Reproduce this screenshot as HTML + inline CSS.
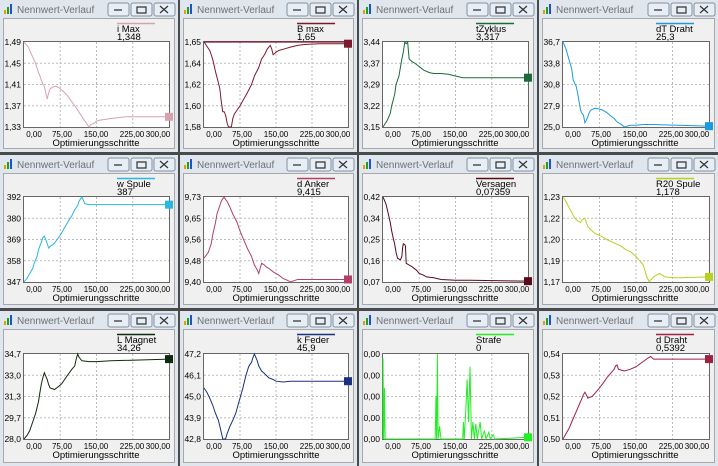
<!DOCTYPE html>
<html><head><meta charset="utf-8"><style>
body{margin:0;width:718px;height:466px;background:#4a4a4a;position:relative;overflow:hidden;font-family:"Liberation Sans",sans-serif}
.p{position:absolute;background:#dfe6ee}
.p svg{position:absolute;left:0;top:0}
</style></head><body>
<svg width="0" height="0" style="position:absolute"><defs>
<g id="tb">
<rect x="4" y="10" width="2" height="4" fill="#e0a000"/><rect x="7" y="7" width="2" height="7" fill="#20a020"/><rect x="10" y="4" width="2" height="10" fill="#2050d0"/>
<text x="17" y="13" font-size="10" fill="#707070">Nennwert-Verlauf</text>
</g>
</defs></svg>
<div id="more"></div>
<script>
const P=[
[0,0,178,152,"i  Max","1,348",["1,49","1,45","1,41","1,37","1,33"],"#d9a0b0","0,0 3,6 5,14 8,25 10,36 11,40 13,50 14,52 15,60 16,67 17,60 18,55 20,53 22,52 25,55 27,58 30,63 32,68 35,75 37,80 40,88 42,93 44,98 45,100 46,97 48,96 50,93 52,92 56,91 60,90 65,89 70,88 100,88",0],
[180,0,177,152,"B  max","1,65",["1,65","1,64","1,62","1,60","1,58"],"#7a1a30","0,0 4,10 6,20 8,35 10,48 11,55 12,70 13,82 14,82 15,86 16,95 17,100 19,100 20,90 21,85 23,80 25,75 28,66 30,60 33,50 35,40 38,30 40,20 42,15 44,8 46,4 47,8 48,15 50,12 52,10 56,8 60,6 65,4 70,3 80,2 100,2",1],
[359,0,178,152,"tZyklus","3,317",["3,44","3,37","3,29","3,22","3,15"],"#1a6a3a","0,100 3,92 5,84 6,75 8,62 9,50 11,40 12,30 13,20 14,12 15,0 16,2 17,0 18,20 20,23 22,25 25,29 28,33 32,36 35,37 40,37 45,38 50,40 55,42 70,42 100,42",0],
[539,0,179,152,"dT  Draht","25,3",["36,7","33,8","30,8","27,9","25,0"],"#1a9ae0","0,0 2,8 4,20 6,32 7,45 9,52 10,60 11,70 12,80 13,84 14,86 15,95 16,92 17,88 18,83 19,80 22,78 25,79 27,80 30,83 32,86 35,90 37,94 40,97 42,100 46,98 50,98 55,97 60,97 100,99",0],
[0,155,178,153,"w  Spule","387",["392","380","369","358","347"],"#2ab8e0","0,100 2,96 4,90 6,84 7,78 9,70 10,62 12,53 13,48 14,46 15,50 16,55 17,60 18,58 20,56 22,52 25,45 28,36 30,30 33,22 35,15 37,10 38,5 39,2 40,0 41,4 42,8 45,9 100,9",0],
[180,155,177,153,"d  Anker","9,415",["9,73","9,65","9,56","9,48","9,40"],"#b0406a","0,72 3,65 5,55 6,45 8,30 9,20 11,10 12,5 13,2 14,0 15,3 16,5 18,12 20,20 23,30 25,40 28,52 30,60 33,70 35,80 37,86 38,90 39,84 40,78 42,80 43,82 45,84 48,88 52,92 55,96 58,98 60,100 65,97 100,97",0],
[359,155,178,153,"Versagen","0,07359",["0,42","0,34","0,25","0,16","0,07"],"#5a0a18","0,0 2,8 3,15 5,30 6,40 7,48 8,55 9,65 10,72 11,73 12,74 13,70 13.5,60 14,55 15,56 15.5,58 16,78 18,80 20,82 23,86 25,90 28,92 30,94 35,95 40,97 50,98 60,98 100,99",0],
[539,155,179,153,"R20  Spule","1,178",["1,23","1,22","1,20","1,19","1,17"],"#b8d020","0,0 2,5 4,12 6,18 8,25 10,28 12,30 13,27 15,25 16,30 17,35 20,40 22,43 26,46 30,50 35,54 40,58 43,62 46,64 50,70 52,74 55,80 56,86 57,92 58,96 59,100 61,96 62,94 64,92 66,90 68,92 70,94 75,95 80,95 100,94",0],
[0,311,178,155,"L  Magnet","34,26",["34,7","33,0","31,3","29,7","28,0"],"#102a10","0,100 2,96 4,90 6,80 8,70 10,56 11,45 12,35 13,28 14,22 15,26 16,30 17,36 18,40 20,41 21,42 24,38 26,35 28,30 30,25 33,18 35,14 36,6 37,0 38,4 40,8 45,9 50,9 60,8 100,6",0],
[180,311,177,155,"k  Feder","45,9",["47,2","46,1","45,0","43,9","42,8"],"#1a3080","0,40 2,45 4,52 6,60 8,70 10,78 11,85 12,92 13,100 15,100 16,94 18,85 20,78 22,70 24,58 27,40 29,26 31,15 32,12 33,10 34,4 35,0 36,4 37,8 38,14 40,20 42,23 45,28 48,30 50,32 55,33 60,32 65,32 100,32",0],
[359,311,178,155,"Strafe","0",["0,00","0,00","0,00","0,00","0,00"],"#22ee22","0,100 0,5 0.5,100 1,40 1.5,100 36,100 36.5,50 37,100 37.5,0 38,100 39,85 40,100 55,100 55.5,80 56,100 57,70 58,30 59,80 60,15 61,100 62,80 63,100 64,82 65,100 67,80 68,100 70,90 71,100 73,92 74,100 76,95 77,100 100,98",0],
[539,311,179,155,"d  Draht","0,5392",["0,54","0,53","0,52","0,51","0,50"],"#a02040","0,100 2,94 4,88 6,80 8,72 10,64 11,60 13,52 14,48 15,45 16,48 17,52 18,51 20,50 22,46 25,40 28,33 30,28 33,22 35,18 36,14 37,13 38,18 40,19 42,20 46,18 50,15 54,10 58,5 60,3 62,6 100,6",0]];
let h="";
P.forEach(p=>{const[x,y,w,H,n,v,yl,c,pts,flat]=p;const L=24,T=y>300?43:42,R=w-9,B=T+85,pw=R-L;
const ey=T+(parseFloat(pts.trim().split(" ").pop().split(",")[1])/100)*85;
let s=`<div class="p" style="left:${x}px;top:${y}px;width:${w}px;height:${H}px"><svg width="${w}" height="${H}"><use href="#tb"/><g fill="#e8eef5" stroke="#8090a0"><rect x="${w-70}" y="3" width="21" height="13" rx="2"/><rect x="${w-47}" y="3" width="21" height="13" rx="2"/><rect x="${w-24}" y="3" width="21" height="13" rx="2"/></g><g stroke="#333" stroke-width="1.2" fill="none"><path d="M${w-64} 10h8M${w-41} 7h9v6h-9zM${w-18} 6l8 7M${w-10} 6l-8 7"/></g>
<rect x="3.5" y="18.5" width="${w-7}" height="${H-22}" fill="#f0f0f0" stroke="#a8a8a8"/><rect x="${L-.5}" y="${T-.5}" width="${pw+1}" height="86" fill="#fff" stroke="#666"/><g stroke="#bbb" stroke-dasharray="2,2">`;
for(let i=1;i<4;i++){s+=`<line x1="${L+pw*i/4}" y1="${T}" x2="${L+pw*i/4}" y2="${B}"/><line x1="${L}" y1="${T+85*i/4}" x2="${R}" y2="${T+85*i/4}"/>`}
s+=`</g><line x1="117" y1="23.5" x2="155" y2="23.5" stroke="${c}" stroke-width="1.5"/><text x="117" y="32" font-size="9.5">${n}</text><text x="117" y="40" font-size="9.5">${v}</text><g font-size="8.5" text-anchor="end">`;
yl.forEach((t,i)=>s+=`<text x="21" y="${T+3+85*i/4}">${t}</text>`);
s+=`</g><g font-size="8" text-anchor="middle">`;
["0,00","75,00","150,00","225,00","300,00"].forEach((t,i)=>s+=`<text x="${[L+10,L+38,L+72,L+108,L+134][i]}" y="${B+10}">${t}</text>`);
s+=`<text x="${L+72}" y="${B+19}" font-size="9.5">Optimierungsschritte</text></g>`;
if(flat)s+=`<line x1="${L}" y1="${T}" x2="${R}" y2="${T}" stroke="${c}" stroke-width="1.2"/>`;
s+=`<svg x="${L}" y="${T}" width="${pw}" height="85" viewBox="0 0 100 100" preserveAspectRatio="none" overflow="visible"><polyline fill="none" stroke="${c}" stroke-width="1" vector-effect="non-scaling-stroke" points="${pts}"/></svg><rect x="${R-4}" y="${ey-4}" width="8" height="8" fill="${c}"/></svg></div>`;
h+=s});
document.getElementById("more").innerHTML=h;
</script>
</body></html>
